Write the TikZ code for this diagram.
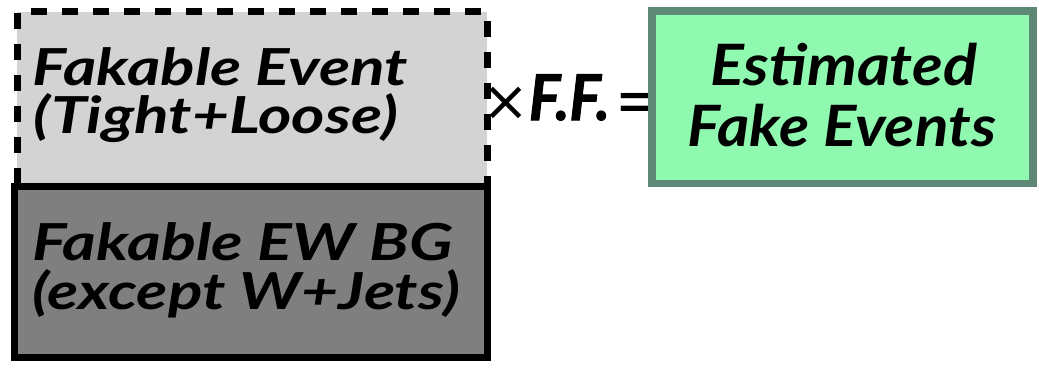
\documentclass[tikz,border=0pt]{standalone}
\usepackage{fontspec}
\setmainfont{Lato}
\newfontfamily\opfont{DejaVu Sans}
\newfontfamily\ffont{Lato}[BoldItalicFeatures={FakeBold=1.6}]
\usepackage{graphicx}
\definecolor{lightfill}{RGB}{211,211,211}
\definecolor{darkfill}{RGB}{127,127,127}
\definecolor{greenfill}{RGB}{143,249,176}
\definecolor{greenline}{RGB}{94,137,118}
\newcommand\fitw[2]{\resizebox{#1}{\height}{#2}}
\begin{document}
\begin{tikzpicture}[x=1pt,y=-1pt,
  lightbox/.style={draw=black, line width=7pt, dash pattern=on 16pt off 15pt,
    fill=lightfill, minimum width=470pt, minimum height=175pt, inner sep=0pt, outer sep=0pt},
  darkbox/.style={draw=black, line width=7pt, fill=darkfill,
    minimum width=472.5pt, minimum height=171pt, inner sep=0pt, outer sep=0pt},
  greenbox/.style={draw=greenline, line width=7.5pt, fill=greenfill,
    minimum width=381pt, minimum height=172.5pt, inner sep=0pt, outer sep=0pt},
  lbl/.style={inner sep=0pt, outer sep=0pt, anchor=base west,
    font=\fontsize{51}{51}\selectfont\bfseries\itshape},
  glbl/.style={inner sep=0pt, outer sep=0pt, anchor=base,
    font=\fontsize{57}{57}\selectfont\bfseries\itshape},
  oplbl/.style={inner sep=0pt, outer sep=0pt, anchor=base west}
]
\useasboundingbox (0,0) rectangle (1039,370);
\node[lightbox] (fake) at (252,99) {};
\node[darkbox] (ew) at (250.75,272) {};
\node[lbl] (t1) at (33,85) {\fitw{375pt}{Fakable Event}};
\node[lbl] (t2) at (34,133) {\fitw{364pt}{(Tight+Loose)}};
\node[lbl] (t3) at (32,260) {\fitw{421pt}{Fakable EW BG}};
\node[lbl] (t4) at (32,309) {\fitw{428pt}{(except W+Jets)}};
\node[oplbl] (ff) at (482,120) {\fontsize{56}{56}\opfont ×\kern0pt\fitw{81pt}{\fontsize{63}{63}\ffont\bfseries\itshape F.F.}\kern5pt\fontsize{64}{64}\opfont\raisebox{-2pt}{=}};
\node[greenbox] (est) at (842.5,97.25) {};
\node[glbl] (g1) at (843.5,85) {\fitw{267pt}{Estimated}};
\node[glbl] (g2) at (842,146) {\fitw{308pt}{Fake Events}};
\end{tikzpicture}
\end{document}
